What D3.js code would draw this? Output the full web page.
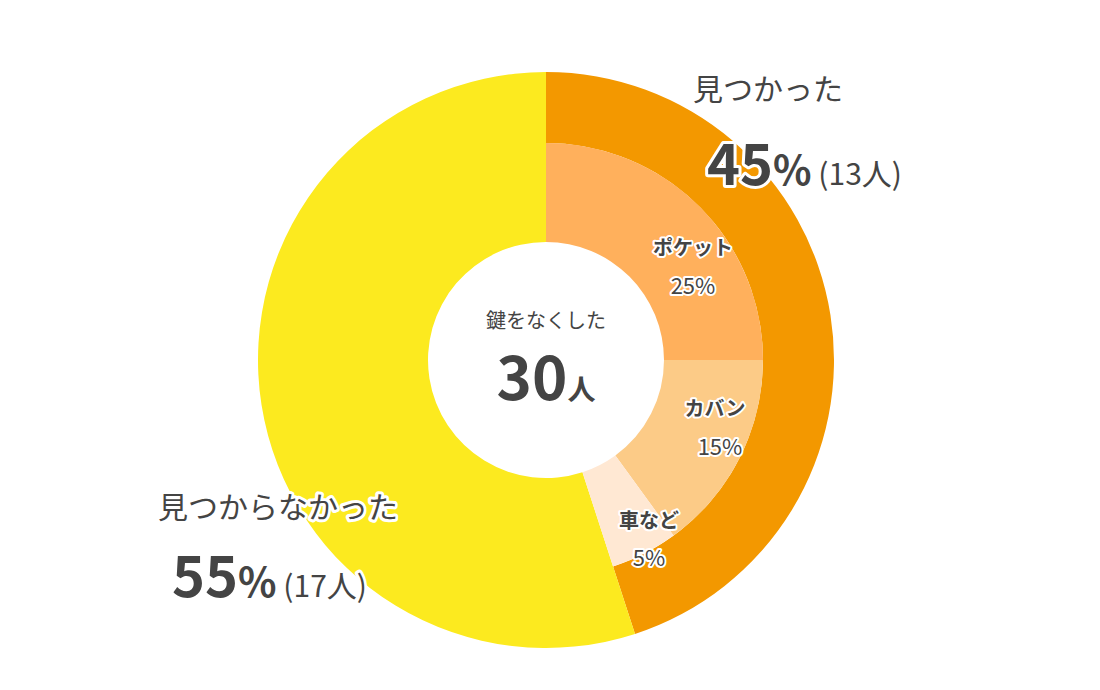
<!DOCTYPE html><html><head><meta charset="utf-8">
<script src="https://cdn.jsdelivr.net/npm/d3@7"></script>
<style>body{margin:0;background:#fff}text{font-family:"Noto Sans CJK JP","Noto Sans",sans-serif;fill:#444}</style></head><body>
<svg width="1100" height="690"></svg>
<script>
const outerCats=["見つかった","見つからなかった"], outerVals=[45,55], outerPeople=[13,17];
const innerCats=["ポケット","カバン","車など"], innerVals=[25,15,5];
const outerColors=["#F39800","#FCEA1F"], innerColors=["#FFB05C","#FCCB87","#FFE8D3"];
const svg=d3.select("svg"), g=svg.append("g").attr("transform","translate(546,360)");
const pie=d3.pie().sort(null).value(d=>d);
const oa=pie(outerVals), R0=118,R1=217,R2=288;
g.selectAll(".o").data(oa).join("path").attr("fill",(d,i)=>outerColors[i])
 .attr("d",(d,i)=>d3.arc().innerRadius(i==0?R1:R0).outerRadius(R2)(d));
const ia=d3.pie().sort(null).value(d=>d).endAngle(2*Math.PI*0.45)(innerVals);
g.selectAll(".i").data(ia).join("path").attr("fill",(d,i)=>innerColors[i])
 .attr("d",d3.arc().innerRadius(R0).outerRadius(R1));
function t(x,y,s,size,w,anchor,stroke){const e=svg.append("text").attr("x",x).attr("y",y).attr("font-size",size).attr("font-weight",w).attr("text-anchor",anchor||"middle").text(s);
 if(stroke)e.attr("stroke","#fff").attr("stroke-width",stroke).attr("paint-order","stroke").attr("stroke-linejoin","round");return e;}
const ipos=[[693,255,693,294],[715,416,720,455],[649,528,649,566]];
innerCats.forEach((c,i)=>{t(ipos[i][0],ipos[i][1],c,20,"bold","middle",4);t(ipos[i][2],ipos[i][3],innerVals[i]+"%",22,"normal","middle",4);});
t(546,328,"鍵をなくした",20,"normal");
const c=t(546,400,"",60,"bold");c.append("tspan").text("30");c.append("tspan").attr("font-size",28).text("人");
function big(x,y1,y2,i){t(x,y1,outerCats[i],30,"normal","start",6);
 const e=t(x+14,y2,"",56,"bold","start",6);e.append("tspan").text(outerVals[i]);e.append("tspan").attr("font-size",40).text("%");
 e.append("tspan").attr("font-size",30).attr("font-weight","normal").text(" ("+outerPeople[i]+"人)");}
big(693,100,185,0);big(158,518,597,1);
</script></body></html>
